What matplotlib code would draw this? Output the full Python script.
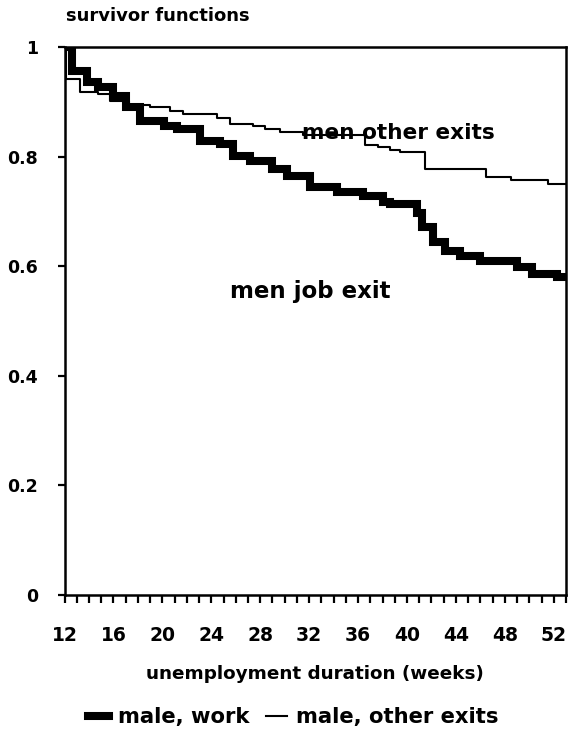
import numpy as np
import matplotlib
matplotlib.use("Agg")
from matplotlib import pyplot as plt

plt.rcParams["font.family"] = ["DejaVu Sans"]
plt.rcParams["font.weight"] = "bold"

# survivor function, exit to a job (step starts, weeks)
job_weeks = [12.0, 12.6, 13.8, 14.7, 16.0, 17.0, 18.2, 20.1, 21.2, 23.1,
             24.7, 25.8, 27.2, 29.0, 30.2, 32.1, 34.3, 36.4, 38.0, 38.6,
             40.8, 41.2, 42.1, 43.1, 44.3, 46.0, 49.0, 50.2, 52.3, 53.0]
job_surv = [1.0, 0.956, 0.936, 0.927, 0.910, 0.890, 0.865, 0.856, 0.850, 0.828,
            0.823, 0.801, 0.792, 0.777, 0.764, 0.744, 0.735, 0.728, 0.717, 0.713,
            0.698, 0.671, 0.645, 0.627, 0.618, 0.609, 0.598, 0.585, 0.580, 0.580]

# survivor function, other exits
other_weeks = [12.0, 12.1, 13.3, 14.7, 15.7, 17.3, 19.0, 20.6, 21.7, 24.5,
               25.5, 27.4, 28.4, 29.6, 31.5, 36.6, 37.6, 38.6, 39.4, 41.5,
               46.5, 48.5, 51.5, 53.0]
other_surv = [1.0, 0.942, 0.918, 0.914, 0.902, 0.895, 0.890, 0.883, 0.877, 0.870,
              0.859, 0.856, 0.850, 0.845, 0.840, 0.822, 0.817, 0.812, 0.808, 0.777,
              0.762, 0.757, 0.750, 0.750]

x_labels = [12, 16, 20, 24, 28, 32, 36, 40, 44, 48, 52]
y_ticks = [0, 0.2, 0.4, 0.6, 0.8, 1]
y_labels = ["0", "0.2", "0.4", "0.6", "0.8", "1"]

fig = plt.figure(figsize=(5.69, 7.45), dpi=100)
ax = fig.add_axes([0.1134, 0.2013, 0.8813, 0.7356])

ax.step(job_weeks, job_surv, where="post", color="black", lw=5.8,
        solid_joinstyle="miter", label="male, work")
ax.step(other_weeks, other_surv, where="post", color="black", lw=1.5,
        label="male, other exits")

ax.set_xlim(12, 53)
ax.set_ylim(0, 1)
for s in ax.spines.values():
    s.set_linewidth(1.8)

ax.set_xticks(np.arange(12, 54, 1), minor=True)
ax.set_xticks(x_labels)
ax.set_xticklabels([str(v) for v in x_labels], fontsize=13.5, fontweight="bold")
ax.tick_params(axis="x", which="both", direction="out", length=6, width=1.6, pad=16)
ax.set_yticks(y_ticks)
ax.set_yticklabels(y_labels, fontsize=12.5, fontweight="bold")
ax.tick_params(axis="y", direction="out", length=5, width=1.6, pad=14)

ax.set_xlabel("unemployment duration (weeks)", fontsize=13.2, fontweight="bold",
              labelpad=15)
fig.text(0.116, 0.979, "survivor functions", fontsize=13, fontweight="bold",
         va="center", ha="left")

ax.text(39.3, 0.843, "men other exits", fontsize=15.6, fontweight="bold",
        ha="center", va="center")
ax.text(32.1, 0.554, "men job exit", fontsize=16.5, fontweight="bold",
        ha="center", va="center")

fig.legend(loc="center", bbox_to_anchor=(0.515, 0.037), ncol=2, frameon=False,
           handlelength=1.0, handletextpad=0.4, columnspacing=0.8,
           prop={"weight": "bold", "size": 15.2})

fig.savefig("out.png", dpi=100)
